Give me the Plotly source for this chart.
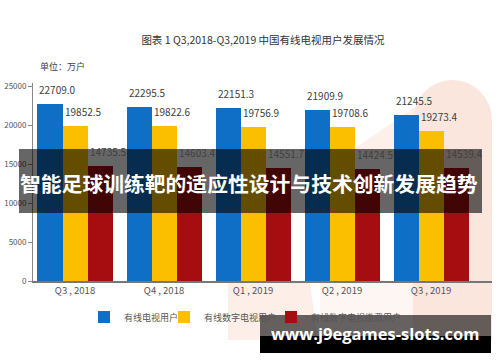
import plotly.graph_objects as go

# ---- data ----
quarters = ["Q3 , 2018", "Q4 , 2018", "Q1 , 2019", "Q2 , 2019", "Q3 , 2019"]
series_names = ["有线电视用户", "有线数字电视用户", "有线数字电视缴费用户"]
cable_users = [22709.0, 22295.5, 22151.3, 21909.9, 21245.5]
digital_users = [19852.5, 19822.6, 19756.9, 19708.6, 19273.4]
paying_users = [14735.5, 14603.4, 14551.7, 14424.5, 14539.4]
y_ticks = [0, 5000, 10000, 15000, 20000, 25000]
y_tick_labels = ["0", "5000", "10000", "15000", "20000", "25000"]

colors = ["#0f6fc6", "#fbbf00", "#a50d10"]
all_values = [cable_users, digital_users, paying_users]

FONT = "Noto Sans CJK SC"
bar_w = 0.281
xs = list(range(len(quarters)))

# pixel -> paper helpers (plot area: x 33..492, y 83..281)
L, R, T, B = 33, 492, 83, 281
def px(x):
    return (x - L) / (R - L)
def py(y):
    return (B - y) / (B - T)

legend_ids = ["legend", "legend2", "legend3"]
legend_x = [84, 164, 271]

fig = go.Figure()

annotations = []
for k, (name, vals, col) in enumerate(zip(series_names, all_values, colors)):
    off = -1.5 * bar_w + k * bar_w
    fig.add_trace(go.Bar(
        x=xs, y=vals, name=name, width=bar_w, offset=off,
        marker=dict(color=col, line=dict(width=0)),
        hoverinfo="y", legend=legend_ids[k],
    ))
    for i, v in zip(xs, vals):
        annotations.append(dict(
            x=i + off, y=v, xref="x", yref="y", text=f"{v:.1f}",
            showarrow=False, xanchor="left", yanchor="bottom", yshift=5,
            font=dict(family=FONT, size=10, color="#404040"),
        ))

shapes = [
    # faint decorative background logo
    dict(type="circle", xref="paper", yref="paper", x0=px(413), x1=px(492), y0=py(160), y1=py(80),
         fillcolor="#fbe6dd", line=dict(width=0), layer="below"),
    dict(type="rect", xref="paper", yref="paper", x0=px(413), x1=px(492), y0=py(340), y1=py(120),
         fillcolor="#fbe6dd", line=dict(width=0), layer="below"),
    dict(type="path", xref="paper", yref="paper",
         path=f"M {px(352)} {py(150)} L {px(414)} {py(108)} L {px(414)} {py(160)} Z",
         fillcolor="#fdf0ea", line=dict(width=0), layer="below"),
    dict(type="path", xref="paper", yref="paper",
         path=f"M {px(228)} {py(283)} L {px(310)} {py(283)} L {px(318)} {py(340)} L {px(228)} {py(340)} Z",
         fillcolor="#fdeee8", line=dict(width=0), layer="below"),
    dict(type="rect", xref="paper", yref="paper", x0=px(320), x1=px(413), y0=py(340), y1=py(283),
         fillcolor="#fef6f2", line=dict(width=0), layer="below"),
    # overlay banner
    dict(type="rect", xref="paper", yref="paper", x0=px(19), x1=px(482), y0=py(213), y1=py(149),
         fillcolor="rgba(0,0,0,0.6)", line=dict(width=0), layer="above"),
    # watermark box
    dict(type="rect", xref="paper", yref="paper", x0=px(260), x1=px(491), y0=py(336), y1=py(315),
         fillcolor="rgba(0,0,0,0.6)", line=dict(width=0), layer="above"),
    dict(type="rect", xref="paper", yref="paper", x0=px(260), x1=px(491), y0=py(353), y1=py(336),
         fillcolor="#000000", line=dict(width=0), layer="above"),
]

annotations += [
    dict(x=px(38), y=py(66), xref="paper", yref="paper", text="单位：万户", showarrow=False,
         xanchor="left", yanchor="middle", font=dict(family=FONT, size=9, color="#404040")),
    dict(x=px(249), y=py(183), xref="paper", yref="paper",
         text="<b>智能足球训练靶的适应性设计与技术创新发展趋势</b>", showarrow=False,
         xanchor="center", yanchor="middle", font=dict(family=FONT, size=20.8, color="#ffffff")),
    dict(x=px(375), y=py(333), xref="paper", yref="paper",
         text="<b>www.j9egames-slots.com</b>", showarrow=False,
         xanchor="center", yanchor="middle", font=dict(family="Open Sans", size=16.5, color="#ffffff")),
]

legend_common = dict(orientation="h", xanchor="left", yanchor="middle",
                     font=dict(family=FONT, size=9, color="#555555"), bgcolor="rgba(0,0,0,0)")

fig.update_layout(
    width=500, height=362,
    margin=dict(l=L, r=500 - R, t=T, b=362 - B, autoexpand=False),
    paper_bgcolor="#ffffff", plot_bgcolor="rgba(0,0,0,0)",
    title=dict(text="图表 1 Q3,2018-Q3,2019 中国有线电视用户发展情况",
               x=263 / 500, y=1 - 40 / 362, xref="container", yref="container",
               xanchor="center", yanchor="middle",
               font=dict(family=FONT, size=10.5, color="#333333")),
    showlegend=True,
    legend=dict(x=px(legend_x[0]), y=py(317), **legend_common),
    legend2=dict(x=px(legend_x[1]), y=py(317), **legend_common),
    legend3=dict(x=px(legend_x[2]), y=py(317), **legend_common),
    xaxis=dict(range=[-0.472, 4.685], tickvals=xs, ticktext=quarters, showgrid=False,
               zeroline=False, showline=True, linecolor="#777777", linewidth=1.5,
               ticks="", automargin=False,
               tickfont=dict(family=FONT, size=9.5, color="#555555")),
    yaxis=dict(range=[0, 25400], tickvals=y_ticks, ticktext=y_tick_labels, showgrid=False,
               zeroline=False, showline=True, linecolor="#888888", linewidth=1,
               ticks="outside", ticklen=4, tickcolor="#888888", automargin=False,
               tickfont=dict(family=FONT, size=8, color="#555555")),
    shapes=shapes,
    annotations=annotations,
    bargap=0, bargroupgap=0,
)

fig.write_html("out.html", config={"displayModeBar": False},
               post_script="document.body.style.margin='0';document.body.style.padding='0';")
